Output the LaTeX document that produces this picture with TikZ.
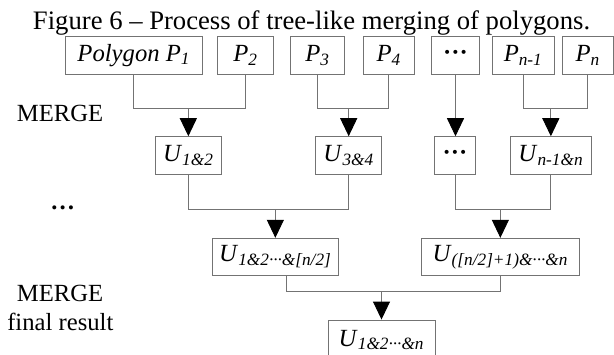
\documentclass[tikz,border=0pt]{standalone}
\usepackage{fontspec}
\setmainfont{Liberation Serif}
\usetikzlibrary{arrows.meta,calc}
\newcommand\Lab[2]{\textit{#1}\textsubscript{\textit{#2}}}
\newcommand\mdots{\textbf{···}}
\begin{document}
\begin{tikzpicture}[x=0.75pt,y=-0.75pt,
  pbox/.style={draw=black!55, line width=0.7pt, inner sep=0pt, align=center,
    font=\fontsize{18.5}{22}\selectfont},
  conn/.style={draw=black!55, line width=0.7pt},
  arr/.style={conn, -{Triangle[width=12.75pt,length=13.5pt,color=black]}},
  lbl/.style={anchor=base west, inner sep=0pt, font=\fontsize{18.5}{22}\selectfont}]
\useasboundingbox (0,0) rectangle (614,354);
% title
\node[anchor=base west, inner sep=0pt, font=\fontsize{20}{24}\selectfont] (title) at (32.7,29.3)
  {Figure 6 – Process of tree-like merging of polygons.};
% left labels
\node[lbl] (merge1) at (16.7,121.7) {MERGE};
\node[lbl] (ldots) at (50,209) {\textbf{…}};
\node[lbl] (merge2) at (16.7,301.7) {MERGE};
\node[lbl] (final) at (7,330) {final result};
% top row
\node[pbox, minimum width=136.3*0.75pt, minimum height=37.3*0.75pt] (P1) at (133.85,55.35) {\Lab{Polygon P}{1}};
\node[pbox, minimum width=55.6*0.75pt, minimum height=37.3*0.75pt] (P2) at (245.5,55.35) {\Lab{P}{2}};
\node[pbox, minimum width=53.6*0.75pt, minimum height=37.3*0.75pt] (P3) at (317.5,55.35) {\Lab{P}{3}};
\node[pbox, minimum width=51*0.75pt, minimum height=37.3*0.75pt] (P4) at (388.8,55.35) {\Lab{P}{4}};
\node[pbox, minimum width=47.6*0.75pt, minimum height=37.3*0.75pt] (D1) at (455.5,55.35) {\mdots};
\node[pbox, minimum width=61.7*0.75pt, minimum height=37.3*0.75pt] (Pn1) at (523.15,55.35) {\Lab{P}{n-1}};
\node[pbox, minimum width=51.5*0.75pt, minimum height=37.3*0.75pt] (Pn) at (587.75,55.35) {\Lab{P}{n}};
% second row
\node[pbox, minimum width=66.7*0.75pt, minimum height=37.6*0.75pt] (U12) at (188.35,155.5) {\Lab{U}{1\&2}};
\node[pbox, minimum width=66*0.75pt, minimum height=37.6*0.75pt] (U34) at (348.7,155.5) {\Lab{U}{3\&4}};
\node[pbox, minimum width=41.4*0.75pt, minimum height=37.6*0.75pt] (D2) at (455,155.5) {\mdots};
\node[pbox, minimum width=80.3*0.75pt, minimum height=37.6*0.75pt] (Un) at (550.85,155.5) {\Lab{U}{n-1\&n}};
% third row
\node[pbox, minimum width=125.3*0.75pt, minimum height=37.2*0.75pt] (L) at (275.35,256.9) {\Lab{U}{1\&2···\&[n/2]}};
\node[pbox, minimum width=157.3*0.75pt, minimum height=37.2*0.75pt] (R) at (500.35,256.9) {\Lab{U}{([n/2]+1)\&···\&n}};
% final (bottom edge lies below the picture)
\node[pbox, minimum width=107*0.75pt, minimum height=40*0.75pt] (F) at (381.5,340) {\Lab{U}{1\&2···\&n}};
% levels
\coordinate (h1) at (0,108.7);
\coordinate (h2) at (0,209.3);
\coordinate (h3) at (0,291.7);
% level 1 connectors
\coordinate (m1) at (U12.north |- h1);
\coordinate (m2) at (U34.north |- h1);
\coordinate (m4) at (Un.north |- h1);
\draw[conn] (P1.south) |- (m1) -| (P2.south);
\draw[arr] (m1) -- (U12.north);
\draw[conn] (P3.south) |- (m2) -| (P4.south);
\draw[arr] (m2) -- (U34.north);
\draw[arr] (D1.south) -- (D1.south |- D2.north);
\draw[conn] (Pn1.south) |- (m4) -| (Pn.south);
\draw[arr] (m4) -- (Un.north);
% level 2 connectors
\coordinate (m5) at (L.north |- h2);
\coordinate (m6) at (R.north |- h2);
\draw[conn] (U12.south) |- (m5) -| (U34.south);
\draw[arr] (m5) -- (L.north);
\draw[conn] (D2.south) |- (m6) -| (Un.south);
\draw[arr] (m6) -- (R.north);
% level 3 connectors
\coordinate (m7) at (F.north |- h3);
\draw[conn] ([xshift=10.65*0.75pt]L.south) |- (m7) -| (R.south);
\draw[arr] (m7) -- (F.north);
\end{tikzpicture}
\end{document}
